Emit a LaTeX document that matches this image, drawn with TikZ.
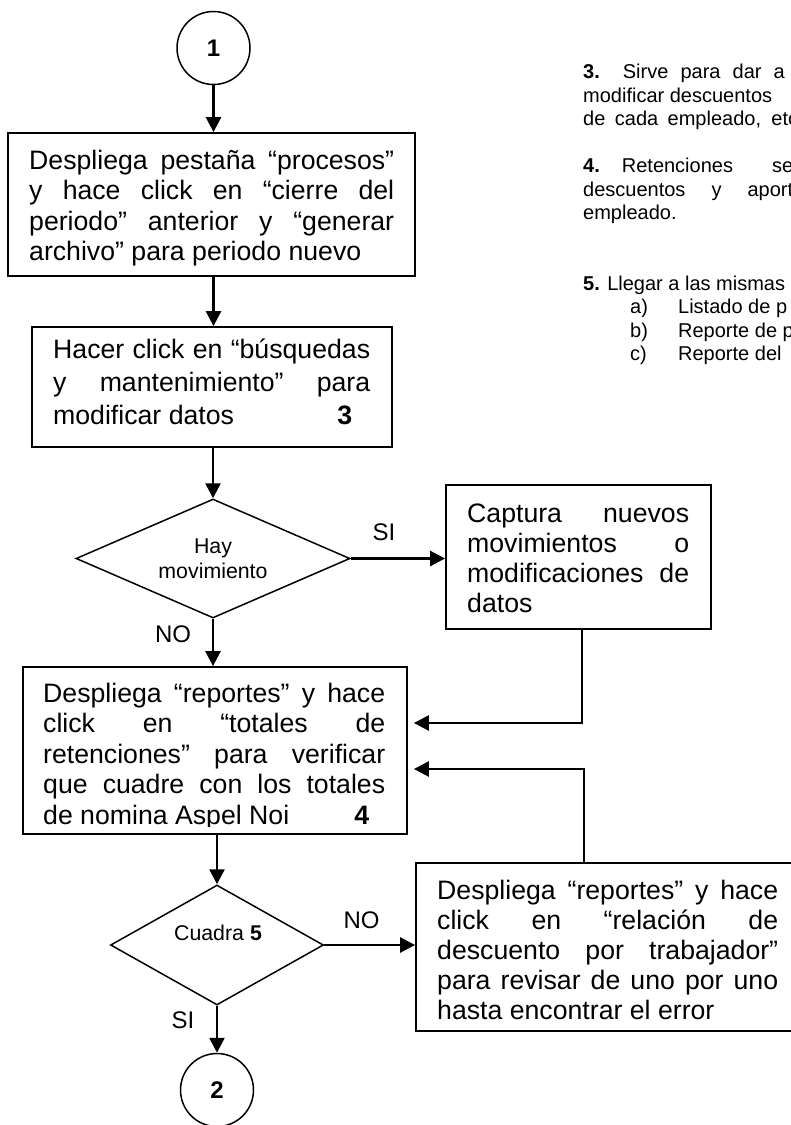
\documentclass[tikz,border=0pt]{standalone}
\usepackage{fontspec}
\setmainfont{Liberation Sans}
\usetikzlibrary{arrows.meta,shapes.geometric}
\newcommand{\jline}[1]{\makebox[\linewidth][s]{#1}}
\begin{document}
\begin{tikzpicture}[x=1pt,y=-1pt,
  box/.style={draw, line width=1.8pt, rectangle, inner sep=0pt},
  txt/.style={inner sep=0pt, anchor=base west, font=\fontsize{26.67pt}{30.5pt}\selectfont},
  decision/.style={draw, line width=1.5pt, diamond, inner sep=0pt},
  connector/.style={draw, line width=1.5pt, circle, inner sep=0pt, minimum size=73pt, font=\fontsize{24pt}{28pt}\selectfont\bfseries},
  flow/.style={line width=2.6pt, -{Triangle[length=15pt,width=15pt]}},
  lbl/.style={inner sep=0pt, anchor=base, font=\fontsize{24pt}{28pt}\selectfont},
  dtext/.style={inner sep=0pt, align=center, font=\fontsize{21.33pt}{24.5pt}\selectfont},
  note/.style={inner sep=0pt, anchor=base west, font=\fontsize{20pt}{23.5pt}\selectfont},
]
\useasboundingbox (0,0) rectangle (791,1125);
\clip (0,0) rectangle (791,1125);
\fill[white] (0,0) rectangle (791,1125);

% ---------- main column ----------
\node[connector] (c1) at (213.5,48) {1};

\node[box, minimum width=407pt, minimum height=143pt] (b1) at (211.5,204.5) {};
\node[txt] (t1) at (29,169) {\parbox[t]{365pt}{%
  \jline{Despliega pestaña “procesos”}\par
  \jline{y hace click en “cierre del}\par
  \jline{periodo” anterior y “generar}\par
  archivo” para periodo nuevo}};

\node[box, minimum width=360pt, minimum height=120pt] (b2) at (212,387) {};
\node[txt, font=\fontsize{26.67pt}{33pt}\selectfont] (t2) at (53,358) {\parbox[t]{317pt}{%
  \jline{Hacer click en “búsquedas}\par
  \jline{y mantenimiento” para}\par
  \jline{modificar datos\hfill\textbf{3}\hspace{18pt}}}};

\node[decision, minimum width=274pt, minimum height=119pt] (d1) at (213,558.5) {};
\node[dtext] (d1t) at (213,559) {Hay\\movimiento};

\node[box, minimum width=265pt, minimum height=144pt] (b3) at (578.5,557) {};
\node[txt, font=\fontsize{26.67pt}{30pt}\selectfont] (t3) at (467,522) {\parbox[t]{222pt}{%
  \jline{Captura nuevos}\par
  \jline{movimientos o}\par
  \jline{modificaciones de}\par
  datos}};

\node[box, minimum width=384pt, minimum height=167pt] (b4) at (215,750.5) {};
\begin{scope}
\clip (23,667) rectangle (407,826);
\node[txt] (t4) at (43,702) {\parbox[t]{342pt}{%
  \jline{Despliega “reportes” y hace}\par
  \jline{click en “totales de}\par
  \jline{retenciones” para verificar}\par
  \jline{que cuadre con los totales}\par
  \jline{de nomina Aspel Noi\hfill\textbf{4}\hspace{16pt}}}};
\end{scope}

\node[decision, minimum width=213pt, minimum height=120pt] (d2) at (217,945) {};
\node[dtext, anchor=base] (d2t) at (218,940) {Cuadra \textbf{5}};

\node[box, minimum width=384pt, minimum height=168pt] (b5) at (608,947) {};
\node[txt, font=\fontsize{26.67pt}{30pt}\selectfont] (t5) at (437,899) {\parbox[t]{341pt}{%
  \jline{Despliega “reportes” y hace}\par
  \jline{click en “relación de}\par
  \jline{descuento por trabajador”}\par
  \jline{para revisar de uno por uno}\par
  hasta encontrar el error}};

\node[connector] (c2) at (217,1090) {2};

% ---------- connectors ----------
\draw[flow] (c1) -- (c1 |- b1.north);
\draw[flow] (b1.south -| c1) -- (b2.north -| c1);
\draw[flow] (b2.south -| d1) -- (d1.north);
\draw[flow] (d1.east) -- (d1.east -| b3.west);
\draw[flow] (d1.south) -- (d1.south |- b4.north);
\coordinate (j1) at (582,723);
\draw[flow, shorten >=6pt] (b3.south -| j1) -- (j1) -- (j1 -| b4.east);
\coordinate (j2) at (584,769);
\draw[flow, shorten >=6pt] (b5.north -| j2) -- (j2) -- (j2 -| b4.east);
\draw[flow] (b4.south -| d2) -- (d2.north);
\draw[flow] (d2.east) -- (d2.east -| b5.west);
\draw[flow] (d2.south) -- (c2);

% ---------- labels ----------
\node[lbl] (l1) at (384,540) {SI};
\node[lbl] (l2) at (173,642) {NO};
\node[lbl] (l3) at (361.5,928) {NO};
\node[lbl] (l4) at (183,1028) {SI};

% ---------- notes ----------
\node[note] (n1) at (583,78.5) {\textbf{3.}\hspace{23pt}\makebox[162pt][s]{Sirve para dar a}};
\node[note] (n2) at (583,102) {modificar descuentos};
\node[note] (n3) at (583,125.5) {\makebox[215pt][s]{de cada empleado, etc}};
\node[note] (n4) at (583,172.5) {\textbf{4.}\hspace{22pt}Retenciones\hspace{39pt}se};
\node[note] (n5) at (583,196) {\makebox[210pt][s]{descuentos y aport}};
\node[note] (n6) at (583,219.5) {empleado.};
\node[note] (n7) at (583,290) {\textbf{5.} Llegar a las mismas};
\node[note] (n8) at (630,313.5) {\makebox[48pt][l]{a)}Listado de p};
\node[note] (n9) at (630,337) {\makebox[48pt][l]{b)}Reporte de p};
\node[note] (n10) at (630,360.5) {\makebox[48pt][l]{c)}Reporte del};
\end{tikzpicture}
\end{document}
